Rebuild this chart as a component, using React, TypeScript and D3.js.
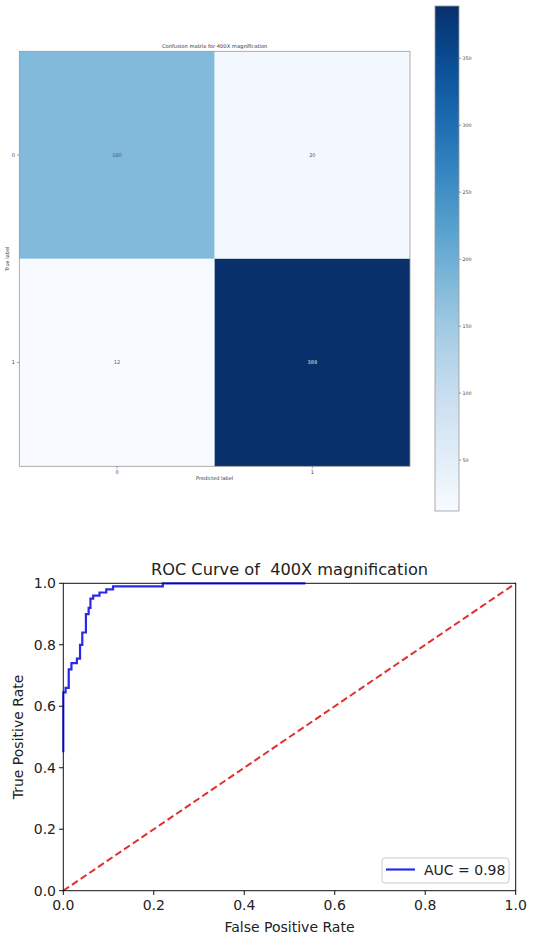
import React from 'react';
import * as d3 from 'd3';

const width = 550;
const height = 939;

// confusion matrix
const classes = ['0', '1'];
const matrix = [
  [180, 20],
  [12, 389],
];
const cbTicks = [50, 100, 150, 200, 250, 300, 350];

// roc curve (corner points, step after)
const fpr = [0, 0, 0.005, 0.012, 0.018, 0.03, 0.037, 0.042, 0.05, 0.056, 0.06, 0.066, 0.08, 0.095, 0.11, 0.22, 0.535];
const tpr = [0.45, 0.645, 0.66, 0.72, 0.74, 0.755, 0.8, 0.84, 0.9, 0.92, 0.95, 0.96, 0.97, 0.98, 0.99, 1.0, 1.0];
const rocTicks = [0, 0.2, 0.4, 0.6, 0.8, 1.0];
const aucLabel = 'AUC = 0.98';

const font = 'DejaVu Sans, sans-serif';

const ConfusionMatrix = () => {
  const flat = matrix.flat();
  const vmin = d3.min(flat) as number;
  const vmax = d3.max(flat) as number;
  const color = d3.scaleSequential(d3.interpolateBlues).domain([vmin, vmax]);
  const x = d3.scaleBand().domain(classes).range([19.3, 410]);
  const y = d3.scaleBand().domain(classes).range([51.3, 466.3]);
  const thresh = vmax / 2;
  const cb = d3.scaleLinear().domain([vmin, vmax]).range([511, 6]);
  const stops = d3.range(0, 1.0001, 0.05);
  return (
    <g fontFamily={font}>
      <defs>
        <linearGradient id="cbgrad" x1="0" y1="1" x2="0" y2="0">
          {stops.map((t) => (
            <stop key={t} offset={t} stopColor={color(vmin + t * (vmax - vmin))} />
          ))}
        </linearGradient>
      </defs>
      <text x={(19.3 + 410) / 2} y={48} fontSize={5.2} textAnchor="middle" fill="#333">
        Confusion matrix for 400X magnification
      </text>
      {matrix.map((row, i) =>
        row.map((v, j) => (
          <g key={`${i}-${j}`}>
            <rect
              x={x(classes[j])}
              y={y(classes[i])}
              width={x.bandwidth()}
              height={y.bandwidth()}
              fill={color(v)}
            />
            <text
              x={(x(classes[j]) as number) + x.bandwidth() / 2}
              y={(y(classes[i]) as number) + y.bandwidth() / 2 + 1.8}
              fontSize={5}
              textAnchor="middle"
              fill={v > thresh ? '#dde6f0' : '#3a5a80'}
            >
              {v}
            </text>
          </g>
        ))
      )}
      <rect x={19.3} y={51.3} width={390.7} height={415} fill="none" stroke="#999" strokeWidth={0.8} />
      {classes.map((c) => (
        <g key={c}>
          <line
            x1={17}
            x2={19.3}
            y1={(y(c) as number) + y.bandwidth() / 2}
            y2={(y(c) as number) + y.bandwidth() / 2}
            stroke="#666"
            strokeWidth={0.6}
          />
          <text x={15} y={(y(c) as number) + y.bandwidth() / 2 + 1.7} fontSize={5} textAnchor="end" fill="#444">
            {c}
          </text>
          <line
            x1={(x(c) as number) + x.bandwidth() / 2}
            x2={(x(c) as number) + x.bandwidth() / 2}
            y1={466.3}
            y2={468.5}
            stroke="#666"
            strokeWidth={0.6}
          />
          <text x={(x(c) as number) + x.bandwidth() / 2} y={474} fontSize={5} textAnchor="middle" fill="#444">
            {c}
          </text>
        </g>
      ))}
      <text x={(19.3 + 410) / 2} y={480} fontSize={5} textAnchor="middle" fill="#333">
        Predicted label
      </text>
      <text transform={`translate(8.5,${(51.3 + 466.3) / 2}) rotate(-90)`} fontSize={5} textAnchor="middle" fill="#333">
        True label
      </text>
      <rect x={435} y={6} width={24} height={505} fill="url(#cbgrad)" stroke="#999" strokeWidth={0.8} />
      {cbTicks.map((t) => (
        <g key={t}>
          <line x1={459} x2={461.3} y1={cb(t)} y2={cb(t)} stroke="#666" strokeWidth={0.6} />
          <text x={462.5} y={cb(t) + 1.7} fontSize={4.8} fill="#444">
            {t}
          </text>
        </g>
      ))}
    </g>
  );
};

const Roc = () => {
  const x = d3.scaleLinear().domain([0, 1]).range([63.3, 515.7]);
  const y = d3.scaleLinear().domain([0, 1]).range([890.7, 583.3]);
  const pts = fpr.map((f, i) => [f, tpr[i]] as [number, number]);
  const line = d3
    .line<[number, number]>()
    .x((d) => x(d[0]))
    .y((d) => y(d[1]))
    .curve(d3.curveStepAfter);
  const diag = d3
    .line<[number, number]>()
    .x((d) => x(d[0]))
    .y((d) => y(d[1]));
  return (
    <g fontFamily={font}>
      <text
        x={(63.3 + 515.7) / 2}
        y={575}
        fontSize={16.2}
        textAnchor="middle"
        fill="#222"
        style={{ whiteSpace: 'pre' }}
      >
        ROC Curve of  400X magnification
      </text>
      <path d={diag([[0, 0], [1, 1]]) as string} fill="none" stroke="#e0302c" strokeWidth={2} strokeDasharray="7,3.5" />
      <path d={line(pts) as string} fill="none" stroke="#2a2ae6" strokeWidth={2.2} />
      <rect x={63.3} y={583.3} width={452.4} height={307.4} fill="none" stroke="#111" strokeWidth={1} />
      {rocTicks.map((t) => (
        <g key={t}>
          <line x1={x(t)} x2={x(t)} y1={890.7} y2={895} stroke="#111" />
          <text x={x(t)} y={910} fontSize={14} textAnchor="middle" fill="#222">
            {t.toFixed(1)}
          </text>
          <line x1={59} x2={63.3} y1={y(t)} y2={y(t)} stroke="#111" />
          <text x={56} y={y(t) + 5} fontSize={14} textAnchor="end" fill="#222">
            {t.toFixed(1)}
          </text>
        </g>
      ))}
      <text x={(63.3 + 515.7) / 2} y={932} fontSize={14} textAnchor="middle" fill="#222">
        False Positive Rate
      </text>
      <text transform={`translate(23,${(583.3 + 890.7) / 2}) rotate(-90)`} fontSize={14} textAnchor="middle" fill="#222">
        True Positive Rate
      </text>
      <rect x={382} y={858} width={127} height={25} rx={3} fill="#fff" stroke="#ccc" strokeWidth={1} />
      <line x1={386} x2={415} y1={869.5} y2={869.5} stroke="#2a2ae6" strokeWidth={2.2} />
      <text x={424} y={875} fontSize={14} fill="#222">
        {aucLabel}
      </text>
    </g>
  );
};

const App = () => {
  return (
    <svg
      width={width}
      height={height}
      style={{ position: 'absolute', left: 0, top: 0, background: '#fff' }}
    >
      <ConfusionMatrix />
      <Roc />
    </svg>
  );
};

export default App;
